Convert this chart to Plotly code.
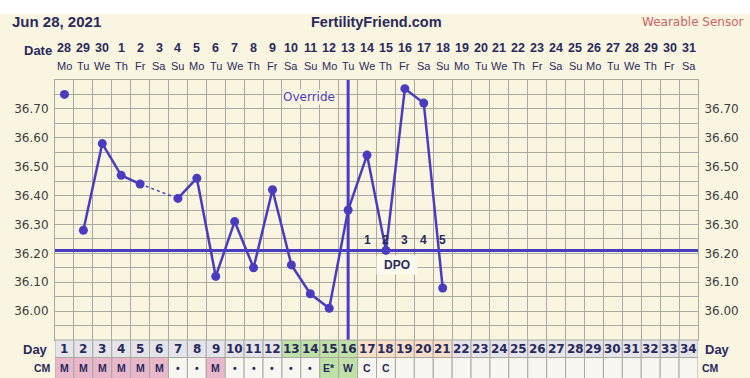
import plotly.graph_objects as go

# ---------------- data ----------------
date_labels = ['28', '29', '30'] + [str(i) for i in range(1, 32)]
weekday_labels = (['Mo', 'Tu', 'We', 'Th', 'Fr', 'Sa', 'Su'] * 5)[:34]
cycle_days = list(range(1, 35))

temp_days = list(range(1, 22))
temps = [36.75, 36.28, 36.58, 36.47, 36.44, None, 36.39, 36.46, 36.12, 36.31,
         36.15, 36.42, 36.16, 36.06, 36.01, 36.35, 36.54, 36.21, 36.77, 36.72,
         36.08]

cm_values = ['M', 'M', 'M', 'M', 'M', 'M', '•', '•', 'M', '•', '•', '•', '•', '•',
             'E*', 'W', 'C', 'C'] + [''] * 16
fertile_days = [13, 14, 15, 16]
luteal_days = [17, 18, 19, 20, 21]
dpo_days = [17, 18, 19, 20, 21]
dpo_labels = ['1', '2', '3', '4', '5']
ovulation_day = 16
coverline = 36.21

y_tick_vals = [round(35.90 + 0.05 * i, 2) for i in range(19)]
y_tick_text = ['%.2f' % v if (round(v * 100) % 10 == 0 and 36.0 <= v <= 36.7) else ''
               for v in y_tick_vals]

# ---------------- style ----------------
W, H = 750, 378
ML, MR, MT, MB = 55, 52, 80, 38
PW, PH = W - ML - MR, H - MT - MB
CREAM = '#faf5e1'
GRID = '#a9a99f'
BLUE = '#4a3cc0'
NAVY = '#29295c'
BOLD = 'Liberation Sans'
DJ = 'DejaVu Sans'


def px(x):
    return (x - ML) / PW


def py(y):
    return (H - MB - y) / PH


def ann(x, y, text, xref='paper', yref='paper', xanchor='center', yanchor='middle',
        **kw):
    d = dict(x=x, y=y, xref=xref, yref=yref, text=text, showarrow=False,
             xanchor=xanchor, yanchor=yanchor)
    d.update(kw)
    return d


fig = go.Figure()

# Day 1 point (not connected)
fig.add_trace(go.Scatter(x=temp_days[:1], y=temps[:1], mode='markers',
                         marker=dict(color=BLUE, size=9), hoverinfo='skip'))
# main line (gap where temp missing)
fig.add_trace(go.Scatter(x=temp_days[1:], y=temps[1:], mode='lines+markers',
                         line=dict(color=BLUE, width=2.5), connectgaps=False,
                         marker=dict(color=BLUE, size=9), hoverinfo='skip'))
# dashed bridge over the missing day
gap_i = temps.index(None)
fig.add_trace(go.Scatter(x=[temp_days[gap_i - 1], temp_days[gap_i + 1]],
                         y=[temps[gap_i - 1], temps[gap_i + 1]], mode='lines',
                         line=dict(color=BLUE, width=1.5, dash='3px,3px'),
                         hoverinfo='skip'))
# right axis helper
fig.add_trace(go.Scatter(x=[None], y=[None], yaxis='y2', hoverinfo='skip'))

shapes = []
# top white strip
shapes.append(dict(type='rect', xref='paper', yref='paper', x0=px(-2), x1=px(W + 2),
                   y0=py(14), y1=py(-2), fillcolor='white', line_width=0,
                   layer='above'))
# coverline
shapes.append(dict(type='line', xref='paper', yref='y', x0=0, x1=1,
                   y0=coverline, y1=coverline, line=dict(color=BLUE, width=3)))
# ovulation line
shapes.append(dict(type='line', xref='x', yref='paper', x0=ovulation_day,
                   x1=ovulation_day, y0=0, y1=1, line=dict(color=BLUE, width=3)))

# day / CM rows
day_y0, day_y1 = py(357.5), py(340)
cm_y0, cm_y1 = py(H + 2), py(357.5)
annotations = []
for d, cm in zip(cycle_days, cm_values):
    if d in fertile_days:
        dc = '#bfe0a6'
    elif d in luteal_days:
        dc = '#f9dfca'
    else:
        dc = '#e4e4ea'
    shapes.append(dict(type='rect', xref='x', yref='paper', x0=d - 0.5, x1=d + 0.5,
                       y0=day_y0, y1=day_y1, fillcolor=dc,
                       line=dict(color=GRID, width=1)))
    if cm == 'M':
        cc = '#e8b8ca'
    elif cm in ('E*', 'W'):
        cc = '#bfe0a6'
    else:
        cc = '#f7f6f0'
    shapes.append(dict(type='rect', xref='x', yref='paper', x0=d - 0.5, x1=d + 0.5,
                       y0=cm_y0, y1=cm_y1, fillcolor=cc,
                       line=dict(color=GRID, width=1)))
    annotations.append(ann(d, py(349), str(d), xref='x',
                           font=dict(family=DJ, size=12, color=NAVY, weight='bold')))
    if cm:
        annotations.append(ann(d, py(368), cm, xref='x',
                               font=dict(family=BOLD, size=10.5, color=NAVY,
                                         weight='bold')))

# date header
for d, dl, wl in zip(cycle_days, date_labels, weekday_labels):
    annotations.append(ann(d, py(48), dl, xref='x',
                           font=dict(family=BOLD, size=12.5, color=NAVY, weight='bold')))
    annotations.append(ann(d, py(66.5), wl, xref='x',
                           font=dict(family=BOLD, size=11, color=NAVY)))

# DPO labels
for d, t in zip(dpo_days, dpo_labels):
    annotations.append(ann(d, py(240), t, xref='x',
                           font=dict(family=BOLD, size=12, color=NAVY, weight='bold')))
annotations.append(ann(px(397), py(265), 'DPO', bgcolor='#fcfaef', borderpad=2,
                       width=36,
                       font=dict(family=BOLD, size=12, color=NAVY, weight='bold')))
annotations.append(ann(px(309), py(96.5), 'Override', bgcolor=CREAM, borderpad=0,
                       font=dict(family=DJ, size=12, color=BLUE)))

# headers
annotations += [
    ann(px(10), py(22), 'Jun 28, 2021', xanchor='left',
        font=dict(family=BOLD, size=15, color=NAVY, weight='bold')),
    ann(px(376), py(22), 'FertilityFriend.com',
        font=dict(family=BOLD, size=14.5, color=NAVY, weight='bold')),
    ann(px(746), py(22), 'Wearable Sensor', xanchor='right',
        font=dict(family=DJ, size=12, color='#cc6464')),
    ann(px(37.5), py(50.5), 'Date',
        font=dict(family=BOLD, size=13, color=NAVY, weight='bold')),
    ann(px(50), py(349), 'Day', xanchor='right',
        font=dict(family=BOLD, size=13, color=NAVY, weight='bold')),
    ann(px(53), py(368), 'CM', xanchor='right',
        font=dict(family=BOLD, size=10.5, color=NAVY, weight='bold')),
    ann(px(703), py(349), 'Day', xanchor='left',
        font=dict(family=BOLD, size=13, color=NAVY, weight='bold')),
    ann(px(700), py(368), 'CM', xanchor='left',
        font=dict(family=BOLD, size=10.5, color=NAVY, weight='bold')),
]

yax = dict(range=[35.90, 36.80], tickmode='array', tickvals=y_tick_vals,
           ticktext=y_tick_text, showgrid=True, gridcolor=GRID, gridwidth=1,
           zeroline=False, ticks='', ticklabelstandoff=3,
           tickfont=dict(family=DJ, size=12, color='#3c3c3c'),
           showline=True, linecolor=GRID, linewidth=1, fixedrange=True)

fig.update_layout(
    width=W, height=H, autosize=False,
    margin=dict(l=ML, r=MR, t=MT, b=MB, pad=0),
    paper_bgcolor=CREAM, plot_bgcolor=CREAM,
    showlegend=False,
    xaxis=dict(range=[0.5, 34.5], tickmode='array',
               tickvals=[c - 0.5 for c in cycle_days] + [34.5],
               showticklabels=False, showgrid=True, gridcolor=GRID, gridwidth=1,
               zeroline=False, ticks='', showline=True, linecolor=GRID, mirror=True),
    yaxis=yax,
    yaxis2=dict(yax, overlaying='y', side='right', showgrid=False),
    shapes=shapes,
    annotations=annotations,
)

fig.write_html('out.html', config={'displayModeBar': False},
               post_script="document.body.style.margin='0';"
                           "document.body.style.overflow='hidden';")
